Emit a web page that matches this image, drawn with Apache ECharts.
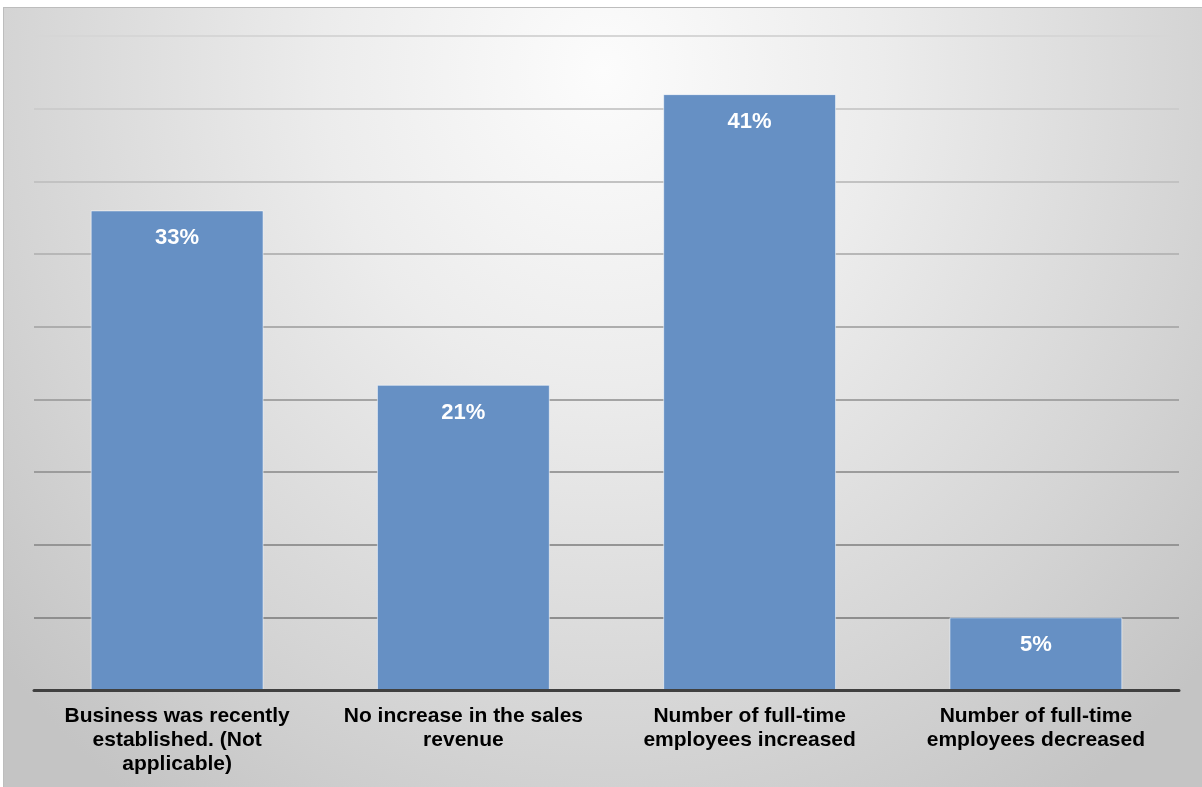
<!DOCTYPE html>
<html>
<head>
<meta charset="utf-8">
<title>Changes in business</title>
<script src="https://cdn.jsdelivr.net/npm/echarts@6/dist/echarts.min.js"></script>
<style>
  html, body { margin: 0; padding: 0; background: #ffffff; width: 1202px; height: 787px; overflow: hidden; }
  #frame {
    position: absolute; left: 3px; top: 7px;
    border-top: 1px solid #bdbdbd; border-left: 1px solid #bdbdbd;
  }
  #chart {
    width: 1198px; height: 779px;
    background: radial-gradient(ellipse 800px 900px at 50% 8%, #fcfcfc 0%, #ececec 35%, #d4d4d4 75%, #c4c4c4 100%);
  }
</style>
</head>
<body>
<div id="frame"><div id="chart"></div></div>
<script>
// Category names shown under each bar
const categories = [
  'Business was recently\nestablished. (Not\napplicable)',
  'No increase in the sales\nrevenue',
  'Number of full-time\nemployees increased',
  'Number of full-time\nemployees decreased'
];
// Share of respondents, in percent
const values = [33, 21, 41, 5];
// Value axis range and step (percent)
const axisMin = 0;
const axisMax = 45;
const axisStep = 5;
// Grid line shades, from the baseline upwards
const gridShades = ['#8a8a8a', '#8e8e8e', '#959595', '#9c9c9c', '#a4a4a4', '#adadad', '#b7b7b7', '#c2c2c2', '#cccccc', '#d6d6d6'];

const chart = echarts.init(document.getElementById('chart'), null, { renderer: 'canvas' });
const fontFamily = "Arial, 'Liberation Sans', Helvetica, sans-serif";

chart.setOption({
  backgroundColor: 'transparent',
  animation: false,
  grid: { left: 30, right: 23, top: 28, bottom: 97, containLabel: false },
  xAxis: {
    type: 'category',
    data: categories,
    axisLine: { show: true, lineStyle: { color: '#404040', width: 3 } },
    axisTick: { show: false },
    axisLabel: {
      interval: 0,
      margin: 14,
      color: '#000000',
      fontFamily: fontFamily,
      fontWeight: 'bold',
      fontSize: 21,
      lineHeight: 24,
      align: 'center'
    },
    z: 5
  },
  yAxis: {
    type: 'value',
    min: axisMin,
    max: axisMax,
    interval: axisStep,
    axisLine: { show: false },
    axisTick: { show: false },
    axisLabel: { show: false },
    splitLine: { show: true, lineStyle: { color: gridShades, width: 2 } }
  },
  series: [{
    type: 'bar',
    data: values,
    barWidth: '60.4%',
    itemStyle: {
      color: '#6690c4',
      borderColor: 'rgba(255,255,255,0.55)',
      borderWidth: 1
    },
    label: {
      show: true,
      position: 'insideTop',
      distance: 17,
      formatter: '{c}%',
      color: '#ffffff',
      fontFamily: fontFamily,
      fontWeight: 'bold',
      fontSize: 22,
      lineHeight: 22
    }
  }]
});
</script>
</body>
</html>
